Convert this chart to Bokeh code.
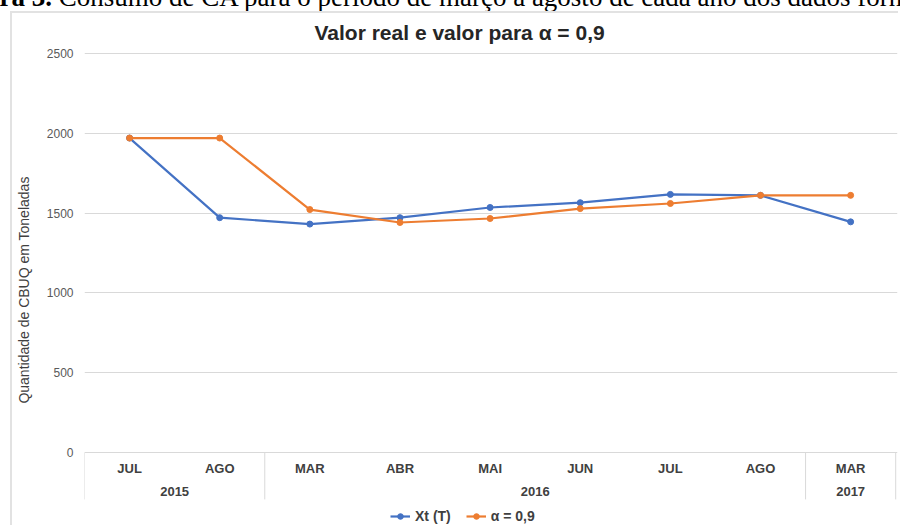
from bokeh.plotting import figure
from bokeh.models import Range1d, FixedTicker, Legend, LegendItem, Div
from bokeh.layouts import column
from bokeh.embed import file_html
from bokeh.resources import INLINE
from bokeh.core.properties import value

# ---- data -------------------------------------------------------------
months = ["JUL", "AGO", "MAR", "ABR", "MAI", "JUN", "JUL", "AGO", "MAR"]
years = ["2015", "2015", "2016", "2016", "2016", "2016", "2016", "2016", "2017"]
xt_real = [1970, 1471, 1431, 1471, 1535, 1565, 1617, 1611, 1445]
alpha_09 = [1970, 1970, 1522, 1441, 1466, 1528, 1560, 1611, 1611]
y_ticks = [0, 500, 1000, 1500, 2000, 2500]

caption_bold = "Figura 3."
caption_text = " Consumo de CA para o período de março a agosto de cada ano dos dados fornecidos"
title_text = "Valor real e valor para α = 0,9"
y_label = "Quantidade de CBUQ em Toneladas"
series_names = ["Xt (T)", "α = 0,9"]

# ---- styles -----------------------------------------------------------
BLUE = "#4472C4"
ORANGE = "#ED7D31"
GRID = "#d9d9d9"
FONT = "Liberation Sans"

idx = list(range(len(months)))
n = len(months)

# group (year) centres and separators derived from the category lists
groups = []
for i, y in enumerate(years):
    if not groups or groups[-1][0] != y:
        groups.append([y, [i]])
    else:
        groups[-1][1].append(i)
year_labels = [g[0] for g in groups]
year_centers = [sum(g[1]) / len(g[1]) for g in groups]
bounds = [g[1][0] - 0.5 for g in groups] + [n - 0.5]

# cut-off figure caption above the chart
cap = Div(width=900, height=11,
          text=('<div style="position:relative; top:-16px; left:-53px; '
                'white-space:nowrap; font-family:\'Liberation Serif\'; '
                'font-size:27px; line-height:27px; color:#000;">'
                '<b>' + caption_bold + '</b>' + caption_text + '</div>'),
          styles={"overflow": "hidden"})
cap.margin = (0, 0, 0, 0)

p = figure(width=888, height=514, output_backend="svg", toolbar_location=None,
           x_range=Range1d(-0.5, n - 0.48), y_range=Range1d(-470, 2506),
           x_axis_type=None,
           min_border_left=71, min_border_right=3, min_border_top=39,
           min_border_bottom=0, title=title_text)
p.margin = (0, 0, 0, 10)
p.styles = {"border-left": "2px solid #e2e2e2", "border-top": "2px solid #e2e2e2"}

p.outline_line_color = None
p.background_fill_color = "white"
p.border_fill_color = "white"

p.title.text_font = FONT
p.title.text_font_size = "21px"
p.title.text_font_style = "bold"
p.title.text_color = "#262626"
p.title.align = "left"
p.title.vertical_align = "top"
p.title.offset = 230
p.title.standoff = 14

p.ygrid.ticker = FixedTicker(ticks=y_ticks)
p.ygrid.grid_line_color = GRID
p.ygrid.grid_line_width = 1

ax = p.yaxis[0]
ax.ticker = FixedTicker(ticks=y_ticks)
ax.axis_line_color = None
ax.major_tick_line_color = None
ax.minor_tick_line_color = None
ax.major_tick_out = 0
ax.major_tick_in = 0
ax.major_label_standoff = 11
ax.major_label_text_font = FONT
ax.major_label_text_font_size = "12px"
ax.major_label_text_color = "#595959"
ax.axis_label = y_label
ax.axis_label_text_font = FONT
ax.axis_label_text_font_size = "14px"
ax.axis_label_text_font_style = "normal"
ax.axis_label_text_color = "#404040"
ax.axis_label_standoff = 12

# category axis drawn inside the frame (Excel-like multi-level axis)
p.segment(x0=bounds, y0=[0] * len(bounds), x1=bounds, y1=[-294] * len(bounds),
          line_color=GRID, line_width=1)
p.text(x=idx, y=[-100] * n, text=months, text_align="center",
       text_baseline="middle", text_font=value(FONT), text_font_style="bold",
       text_font_size="13px", text_color="#404040")
p.text(x=year_centers, y=[-244] * len(year_centers), text=year_labels,
       text_align="center", text_baseline="middle", text_font=value(FONT),
       text_font_style="bold", text_font_size="13px", text_color="#404040")

# series
l1 = p.line(idx, xt_real, line_color=BLUE, line_width=2.2)
s1 = p.scatter(idx, xt_real, size=6, fill_color=BLUE, line_color=BLUE)
l2 = p.line(idx, alpha_09, line_color=ORANGE, line_width=2.2)
s2 = p.scatter(idx, alpha_09, size=6, fill_color=ORANGE, line_color=ORANGE)

legend = Legend(items=[LegendItem(label=series_names[0], renderers=[l1, s1]),
                       LegendItem(label=series_names[1], renderers=[l2, s2])],
                location=(306, 3), orientation="horizontal",
                padding=0, margin=0, border_line_color=None,
                background_fill_alpha=0, label_text_font=FONT,
                label_text_font_size="14px", label_text_font_style="bold",
                label_text_color="#404040",
                glyph_width=20, glyph_height=14, label_height=14,
                label_standoff=5, spacing=15)
p.add_layout(legend)

layout = column(cap, p, spacing=0)
open("out.html", "w").write(file_html(layout, INLINE))
